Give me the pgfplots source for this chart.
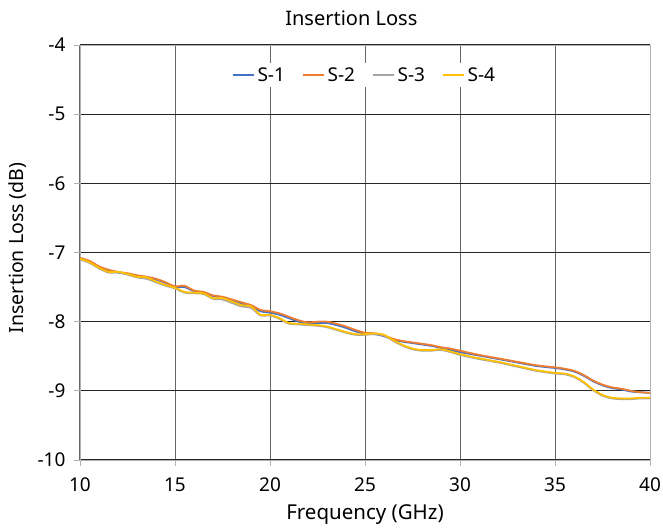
\documentclass[border=0pt]{standalone}
\usepackage{fontspec}
\setmainfont{Noto Sans}
\usepackage{pgfplots}
\pgfplotsset{compat=1.18}

\definecolor{sblue}{HTML}{4472C4}
\definecolor{sorange}{HTML}{ED7D31}
\definecolor{sgray}{HTML}{A5A5A5}
\definecolor{syellow}{HTML}{FFC000}

\begin{document}
\begin{tikzpicture}
\path[use as bounding box] (-80pt,-69pt) rectangle (583pt,460pt);
\begin{axis}[
    at={(0pt,0pt)}, anchor=south west,
    scale only axis,
    width=570pt, height=415pt,
    xmin=10, xmax=40, ymin=-10, ymax=-4,
    xtick={10,15,...,40}, ytick={-10,-9,...,-4},
    tick label style={font=\fontsize{19}{22}\selectfont},
    /pgf/number format/assume math mode=true,
    axis line style={black!30, line width=0.9pt},
    tick style={black!30, line width=0.9pt},
    tick align=outside, major tick length=6pt,
    xtick pos=bottom, ytick pos=left,
    xticklabel style={yshift=-8pt},
    yticklabel style={xshift=-5pt},
    grid=major,
    x grid style={black!60, line width=1pt},
    y grid style={black!85, line width=1pt},
    title={\fontsize{20}{24}\selectfont Insertion Loss},
    title style={at={(axis description cs:0.476,1.0506)}, anchor=center},
    xlabel={Frequency (GHz)},
    xlabel style={at={(axis description cs:0.5,-0.1325)}, anchor=center,
        font=\fontsize{20.5}{24}\selectfont},
    ylabel={Insertion Loss (dB)},
    ylabel style={at={(axis description cs:-0.1088,0.511)}, anchor=center,
        font=\fontsize{19.5}{24}\selectfont},
    legend style={at={(axis description cs:0.5,0.928)}, anchor=center,
        draw=none, fill=white, legend columns=4,
        nodes={inner xsep=3pt},
        /tikz/every even column/.append style={column sep=14pt},
        font=\fontsize{19}{22}\selectfont},
    legend image code/.code={\draw[#1, line width=1.6pt] (0pt,0pt) -- (21pt,0pt);},
    every axis plot/.append style={line width=1.8pt, smooth, tension=0.5},
]
% S-1
\addplot[sblue] coordinates {
(10,-7.08) (10.5,-7.13) (11,-7.21) (11.5,-7.26) (12,-7.29) (12.5,-7.31) (13,-7.34)
(13.5,-7.36) (14,-7.39) (14.5,-7.44) (15,-7.50) (15.5,-7.50) (16,-7.56) (16.5,-7.58)
(17,-7.63) (17.5,-7.65) (18,-7.70) (18.5,-7.74) (19,-7.78) (19.5,-7.85) (20,-7.87)
(20.5,-7.90) (21,-7.95) (21.5,-8.00) (22,-8.02) (22.5,-8.02) (23,-8.02) (23.5,-8.05)
(24,-8.09) (24.5,-8.14) (25,-8.17) (25.5,-8.18) (26,-8.21) (26.5,-8.26) (27,-8.29)
(27.5,-8.31) (28,-8.33) (28.5,-8.35) (29,-8.38) (29.5,-8.41) (30,-8.44) (31,-8.49)
(32,-8.54) (33,-8.59) (34,-8.64) (35,-8.67) (35.5,-8.69) (36,-8.72) (36.5,-8.78)
(37,-8.86) (37.5,-8.92) (38,-8.96) (38.5,-8.98) (39,-9.01) (39.5,-9.02) (40,-9.03)
};
\addlegendentry{S-1}
% S-2
\addplot[sorange] coordinates {
(10,-7.08) (10.5,-7.12) (11,-7.20) (11.5,-7.25) (12,-7.28) (12.5,-7.30) (13,-7.33)
(13.5,-7.35) (14,-7.38) (14.5,-7.43) (15,-7.49) (15.5,-7.48) (16,-7.55) (16.5,-7.57)
(17,-7.62) (17.5,-7.64) (18,-7.68) (18.5,-7.72) (19,-7.76) (19.5,-7.83) (20,-7.85)
(20.5,-7.88) (21,-7.93) (21.5,-7.98) (22,-8.01) (22.5,-8.00) (23,-8.00) (23.5,-8.03)
(24,-8.07) (24.5,-8.12) (25,-8.16) (25.5,-8.17) (26,-8.20) (26.5,-8.25) (27,-8.28)
(27.5,-8.30) (28,-8.32) (28.5,-8.34) (29,-8.37) (29.5,-8.39) (30,-8.42) (31,-8.48)
(32,-8.53) (33,-8.58) (34,-8.63) (35,-8.66) (35.5,-8.68) (36,-8.71) (36.5,-8.77)
(37,-8.85) (37.5,-8.91) (38,-8.95) (38.5,-8.97) (39,-9.00) (39.5,-9.02) (40,-9.03)
};
\addlegendentry{S-2}
% S-3
\addplot[sgray] coordinates {
(10,-7.10) (10.5,-7.15) (11,-7.23) (11.5,-7.29) (12,-7.29) (12.5,-7.32) (13,-7.36)
(13.5,-7.38) (14,-7.43) (14.5,-7.48) (15,-7.52) (15.5,-7.58) (16,-7.59) (16.5,-7.60)
(17,-7.67) (17.5,-7.68) (18,-7.73) (18.5,-7.78) (19,-7.80) (19.5,-7.91) (20,-7.91)
(20.5,-7.96) (21,-8.03) (21.5,-8.04) (22,-8.05) (22.5,-8.06) (23,-8.08) (23.5,-8.12)
(24,-8.16) (24.5,-8.19) (25,-8.19) (25.5,-8.18) (26,-8.20) (26.5,-8.28) (27,-8.35)
(27.5,-8.40) (28,-8.42) (28.5,-8.42) (29,-8.41) (29.5,-8.44) (30,-8.48) (31,-8.54)
(32,-8.59) (33,-8.65) (34,-8.71) (35,-8.75) (35.5,-8.76) (36,-8.80) (36.5,-8.88)
(37,-8.99) (37.5,-9.07) (38,-9.11) (38.5,-9.12) (39,-9.12) (39.5,-9.11) (40,-9.11)
};
\addlegendentry{S-3}
% S-4
\addplot[syellow] coordinates {
(10,-7.09) (10.5,-7.14) (11,-7.22) (11.5,-7.28) (12,-7.28) (12.5,-7.31) (13,-7.35)
(13.5,-7.36) (14,-7.42) (14.5,-7.47) (15,-7.51) (15.5,-7.57) (16,-7.58) (16.5,-7.59)
(17,-7.66) (17.5,-7.66) (18,-7.71) (18.5,-7.76) (19,-7.78) (19.5,-7.90) (20,-7.90)
(20.5,-7.95) (21,-8.02) (21.5,-8.03) (22,-8.04) (22.5,-8.05) (23,-8.07) (23.5,-8.11)
(24,-8.15) (24.5,-8.18) (25,-8.18) (25.5,-8.17) (26,-8.19) (26.5,-8.27) (27,-8.34)
(27.5,-8.39) (28,-8.41) (28.5,-8.41) (29,-8.40) (29.5,-8.43) (30,-8.47) (31,-8.53)
(32,-8.58) (33,-8.64) (34,-8.70) (35,-8.74) (35.5,-8.75) (36,-8.79) (36.5,-8.87)
(37,-8.98) (37.5,-9.06) (38,-9.10) (38.5,-9.11) (39,-9.11) (39.5,-9.10) (40,-9.10)
};
\addlegendentry{S-4}
\end{axis}
\end{tikzpicture}
\end{document}
